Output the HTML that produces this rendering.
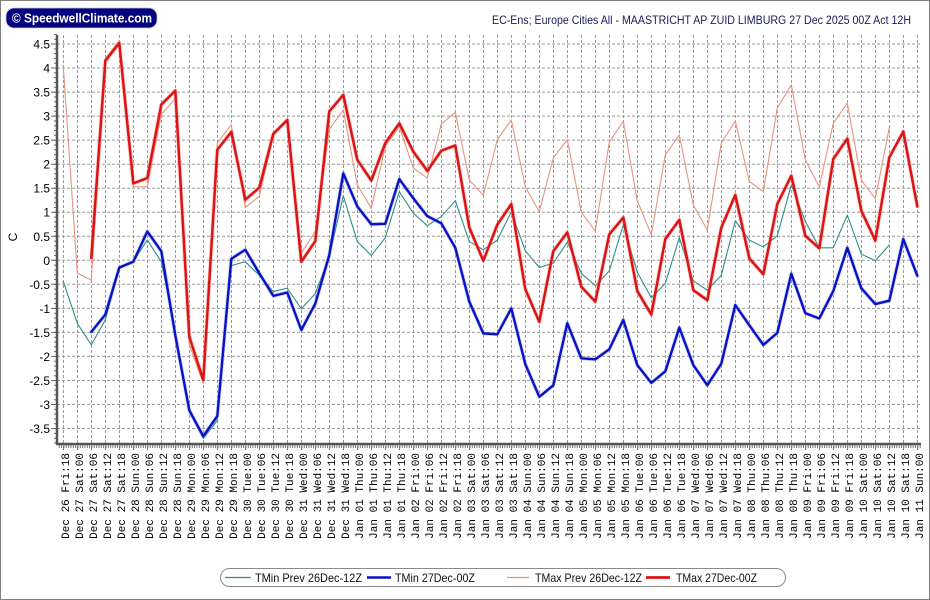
<!DOCTYPE html>
<html><head><meta charset="utf-8"><style>
html,body{margin:0;padding:0;background:#fff;}
svg{display:block;}
</style></head><body>
<svg width="930" height="600" viewBox="0 0 930 600" xmlns="http://www.w3.org/2000/svg">
<rect x="0" y="0" width="930" height="600" fill="#fff"/>
<rect x="0.5" y="0.5" width="929" height="599" fill="none" stroke="#808080" stroke-width="1"/>

<!-- logo -->
<rect x="6" y="8" width="151" height="20" rx="8" ry="8" fill="#04047e" stroke="#c8c8e0" stroke-width="0.8"/>
<text x="12" y="22.5" font-family="'Liberation Sans',sans-serif" font-weight="bold" font-size="12.5" fill="#fff" textLength="140" lengthAdjust="spacingAndGlyphs">© SpeedwellClimate.com</text>

<!-- title -->
<text x="492" y="24" font-family="'Liberation Sans',sans-serif" font-size="12" fill="#1a1a5a" textLength="419" lengthAdjust="spacingAndGlyphs">EC-Ens; Europe Cities All - MAASTRICHT AP ZUID LIMBURG 27 Dec 2025 00Z Act 12H</text>

<!-- grid -->
<g stroke="#9a9a9a" stroke-width="1" stroke-dasharray="3 2" fill="none">
<path d="M57 44H921M57 68H921M57 92.1H921M57 116.1H921M57 140.1H921M57 164.2H921M57 188.2H921M57 212.2H921M57 236.3H921M57 260.3H921M57 284.3H921M57 308.4H921M57 332.4H921M57 356.4H921M57 380.5H921M57 404.5H921M57 428.5H921"/>
<path d="M63.5 35V444M77.5 35V444M91.5 35V444M105.5 35V444M119.5 35V444M133.5 35V444M147.5 35V444M161.5 35V444M175.5 35V444M189.5 35V444M203.5 35V444M217.5 35V444M231.5 35V444M245.5 35V444M259.5 35V444M273.5 35V444M287.5 35V444M301.5 35V444M315.5 35V444M329.5 35V444M343.5 35V444M357.5 35V444M371.5 35V444M385.5 35V444M399.5 35V444M413.5 35V444M427.5 35V444M441.5 35V444M455.5 35V444M469.5 35V444M483.5 35V444M497.5 35V444M511.5 35V444M525.5 35V444M539.5 35V444M553.5 35V444M567.5 35V444M581.5 35V444M595.5 35V444M609.5 35V444M623.5 35V444M637.5 35V444M651.5 35V444M665.5 35V444M679.5 35V444M693.5 35V444M707.5 35V444M721.5 35V444M735.5 35V444M749.5 35V444M763.5 35V444M777.5 35V444M791.5 35V444M805.5 35V444M819.5 35V444M833.5 35V444M847.5 35V444M861.5 35V444M875.5 35V444M889.5 35V444M903.5 35V444M917.5 35V444"/>
</g>

<!-- axis ticks -->
<line x1="55.5" y1="33.9" x2="55.5" y2="444" stroke="#666" stroke-width="3" stroke-dasharray="1 3.807"/>
<path d="M51 44H57M51 68H57M51 92.1H57M51 116.1H57M51 140.1H57M51 164.2H57M51 188.2H57M51 212.2H57M51 236.3H57M51 260.3H57M51 284.3H57M51 308.4H57M51 332.4H57M51 356.4H57M51 380.5H57M51 404.5H57M51 428.5H57" stroke="#666" stroke-width="1"/>
<line x1="58.8" y1="446.5" x2="921" y2="446.5" stroke="#777" stroke-width="3" stroke-dasharray="1 1.333"/>
<line x1="63" y1="448" x2="921" y2="448" stroke="#777" stroke-width="4" stroke-dasharray="1 13"/>

<!-- axes -->
<line x1="57" y1="35" x2="57" y2="445" stroke="#555" stroke-width="2.5"/>
<line x1="56" y1="444" x2="921" y2="444" stroke="#555" stroke-width="2.5"/>

<!-- y labels -->
<g font-family="'Liberation Sans',sans-serif" font-size="12" fill="#000" text-anchor="end">
<text x="50" y="48.5">4.5</text>
<text x="50" y="72.5">4</text>
<text x="50" y="96.6">3.5</text>
<text x="50" y="120.6">3</text>
<text x="50" y="144.6">2.5</text>
<text x="50" y="168.7">2</text>
<text x="50" y="192.7">1.5</text>
<text x="50" y="216.7">1</text>
<text x="50" y="240.8">0.5</text>
<text x="50" y="264.8">0</text>
<text x="50" y="288.8">-0.5</text>
<text x="50" y="312.9">-1</text>
<text x="50" y="336.9">-1.5</text>
<text x="50" y="360.9">-2</text>
<text x="50" y="385">-2.5</text>
<text x="50" y="409">-3</text>
<text x="50" y="433">-3.5</text>
</g>
<text transform="translate(17,237) rotate(-90)" font-family="'Liberation Sans',sans-serif" font-size="12" fill="#000" text-anchor="middle">C</text>

<!-- x labels -->
<g font-family="'Liberation Mono',monospace" font-size="11" fill="#000" text-anchor="end">
<text transform="translate(69.1,453) rotate(-90)">Dec 26 Fri:18</text>
<text transform="translate(83.1,453) rotate(-90)">Dec 27 Sat:00</text>
<text transform="translate(97.1,453) rotate(-90)">Dec 27 Sat:06</text>
<text transform="translate(111.1,453) rotate(-90)">Dec 27 Sat:12</text>
<text transform="translate(125.1,453) rotate(-90)">Dec 27 Sat:18</text>
<text transform="translate(139.1,453) rotate(-90)">Dec 28 Sun:00</text>
<text transform="translate(153.1,453) rotate(-90)">Dec 28 Sun:06</text>
<text transform="translate(167.1,453) rotate(-90)">Dec 28 Sun:12</text>
<text transform="translate(181.1,453) rotate(-90)">Dec 28 Sun:18</text>
<text transform="translate(195.1,453) rotate(-90)">Dec 29 Mon:00</text>
<text transform="translate(209.1,453) rotate(-90)">Dec 29 Mon:06</text>
<text transform="translate(223.1,453) rotate(-90)">Dec 29 Mon:12</text>
<text transform="translate(237.1,453) rotate(-90)">Dec 29 Mon:18</text>
<text transform="translate(251.1,453) rotate(-90)">Dec 30 Tue:00</text>
<text transform="translate(265.1,453) rotate(-90)">Dec 30 Tue:06</text>
<text transform="translate(279.1,453) rotate(-90)">Dec 30 Tue:12</text>
<text transform="translate(293.1,453) rotate(-90)">Dec 30 Tue:18</text>
<text transform="translate(307.1,453) rotate(-90)">Dec 31 Wed:00</text>
<text transform="translate(321.1,453) rotate(-90)">Dec 31 Wed:06</text>
<text transform="translate(335.1,453) rotate(-90)">Dec 31 Wed:12</text>
<text transform="translate(349.1,453) rotate(-90)">Dec 31 Wed:18</text>
<text transform="translate(363.1,453) rotate(-90)">Jan 01 Thu:00</text>
<text transform="translate(377.1,453) rotate(-90)">Jan 01 Thu:06</text>
<text transform="translate(391.1,453) rotate(-90)">Jan 01 Thu:12</text>
<text transform="translate(405.1,453) rotate(-90)">Jan 01 Thu:18</text>
<text transform="translate(419.1,453) rotate(-90)">Jan 02 Fri:00</text>
<text transform="translate(433.1,453) rotate(-90)">Jan 02 Fri:06</text>
<text transform="translate(447.1,453) rotate(-90)">Jan 02 Fri:12</text>
<text transform="translate(461.1,453) rotate(-90)">Jan 02 Fri:18</text>
<text transform="translate(475.1,453) rotate(-90)">Jan 03 Sat:00</text>
<text transform="translate(489.1,453) rotate(-90)">Jan 03 Sat:06</text>
<text transform="translate(503.1,453) rotate(-90)">Jan 03 Sat:12</text>
<text transform="translate(517.1,453) rotate(-90)">Jan 03 Sat:18</text>
<text transform="translate(531.1,453) rotate(-90)">Jan 04 Sun:00</text>
<text transform="translate(545.1,453) rotate(-90)">Jan 04 Sun:06</text>
<text transform="translate(559.1,453) rotate(-90)">Jan 04 Sun:12</text>
<text transform="translate(573.1,453) rotate(-90)">Jan 04 Sun:18</text>
<text transform="translate(587.1,453) rotate(-90)">Jan 05 Mon:00</text>
<text transform="translate(601.1,453) rotate(-90)">Jan 05 Mon:06</text>
<text transform="translate(615.1,453) rotate(-90)">Jan 05 Mon:12</text>
<text transform="translate(629.1,453) rotate(-90)">Jan 05 Mon:18</text>
<text transform="translate(643.1,453) rotate(-90)">Jan 06 Tue:00</text>
<text transform="translate(657.1,453) rotate(-90)">Jan 06 Tue:06</text>
<text transform="translate(671.1,453) rotate(-90)">Jan 06 Tue:12</text>
<text transform="translate(685.1,453) rotate(-90)">Jan 06 Tue:18</text>
<text transform="translate(699.1,453) rotate(-90)">Jan 07 Wed:00</text>
<text transform="translate(713.1,453) rotate(-90)">Jan 07 Wed:06</text>
<text transform="translate(727.1,453) rotate(-90)">Jan 07 Wed:12</text>
<text transform="translate(741.1,453) rotate(-90)">Jan 07 Wed:18</text>
<text transform="translate(755.1,453) rotate(-90)">Jan 08 Thu:00</text>
<text transform="translate(769.1,453) rotate(-90)">Jan 08 Thu:06</text>
<text transform="translate(783.1,453) rotate(-90)">Jan 08 Thu:12</text>
<text transform="translate(797.1,453) rotate(-90)">Jan 08 Thu:18</text>
<text transform="translate(811.1,453) rotate(-90)">Jan 09 Fri:00</text>
<text transform="translate(825.1,453) rotate(-90)">Jan 09 Fri:06</text>
<text transform="translate(839.1,453) rotate(-90)">Jan 09 Fri:12</text>
<text transform="translate(853.1,453) rotate(-90)">Jan 09 Fri:18</text>
<text transform="translate(867.1,453) rotate(-90)">Jan 10 Sat:00</text>
<text transform="translate(881.1,453) rotate(-90)">Jan 10 Sat:06</text>
<text transform="translate(895.1,453) rotate(-90)">Jan 10 Sat:12</text>
<text transform="translate(909.1,453) rotate(-90)">Jan 10 Sat:18</text>
<text transform="translate(923.1,453) rotate(-90)">Jan 11 Sun:00</text>
</g>

<!-- series -->
<g transform="translate(63.3,260.3) scale(14,-48.07)" fill="none" stroke-linejoin="round" stroke-linecap="round">
<!-- TMin Prev -->
<polyline vector-effect="non-scaling-stroke" stroke="#2f8f88" stroke-width="1.1" points="0,-0.44 1,-1.31 2,-1.76 3,-1.24 4,-0.17 5,-0.03 6,0.42 7,-0.03 8,-1.5 9,-3.15 10,-3.71 11,-3.33 12,-0.11 13,-0.03 14,-0.31 15,-0.65 16,-0.58 17,-1.01 18,-0.69 19,0.08 20,1.34 21,0.39 22,0.1 23,0.47 24,1.43 25,0.98 26,0.72 27,0.91 28,1.24 29,0.39 30,0.22 31,0.42 32,1.01 33,0.2 34,-0.15 35,-0.06 36,0.38 37,-0.27 38,-0.53 39,-0.22 40,0.74 41,-0.25 42,-0.78 43,-0.48 44,0.47 45,-0.43 46,-0.62 47,-0.31 48,0.82 49,0.42 50,0.28 51,0.51 52,1.57 53,0.81 54,0.26 55,0.26 56,0.94 57,0.13 58,-0.01 59,0.32"/>
<!-- TMin main -->
<polyline vector-effect="non-scaling-stroke" stroke="#8090f0" stroke-opacity="0.35" stroke-width="4" points="2,-1.49 3,-1.13 4,-0.15 5,-0.03 6,0.6 7,0.19 8,-1.56 9,-3.12 10,-3.66 11,-3.24 12,0.03 13,0.22 14,-0.27 15,-0.74 16,-0.67 17,-1.45 18,-0.9 19,0.11 20,1.81 21,1.12 22,0.75 23,0.76 24,1.69 25,1.29 26,0.92 27,0.77 28,0.26 29,-0.86 30,-1.52 31,-1.54 32,-1.0 33,-2.16 34,-2.84 35,-2.6 36,-1.31 37,-2.04 38,-2.06 39,-1.85 40,-1.24 41,-2.18 42,-2.55 43,-2.31 44,-1.4 45,-2.18 46,-2.6 47,-2.15 48,-0.93 49,-1.35 50,-1.76 51,-1.51 52,-0.28 53,-1.1 54,-1.21 55,-0.64 56,0.26 57,-0.58 58,-0.91 59,-0.84 60,0.44 61,-0.32"/>
<polyline vector-effect="non-scaling-stroke" stroke="#0a12c4" stroke-width="2.4" points="2,-1.49 3,-1.13 4,-0.15 5,-0.03 6,0.6 7,0.19 8,-1.56 9,-3.12 10,-3.66 11,-3.24 12,0.03 13,0.22 14,-0.27 15,-0.74 16,-0.67 17,-1.45 18,-0.9 19,0.11 20,1.81 21,1.12 22,0.75 23,0.76 24,1.69 25,1.29 26,0.92 27,0.77 28,0.26 29,-0.86 30,-1.52 31,-1.54 32,-1.0 33,-2.16 34,-2.84 35,-2.6 36,-1.31 37,-2.04 38,-2.06 39,-1.85 40,-1.24 41,-2.18 42,-2.55 43,-2.31 44,-1.4 45,-2.18 46,-2.6 47,-2.15 48,-0.93 49,-1.35 50,-1.76 51,-1.51 52,-0.28 53,-1.1 54,-1.21 55,-0.64 56,0.26 57,-0.58 58,-0.91 59,-0.84 60,0.44 61,-0.32"/>
<!-- TMax Prev -->
<polyline vector-effect="non-scaling-stroke" stroke="#e9937f" stroke-width="1.1" points="0,4.03 1,-0.27 2,-0.41 3,4.2 4,4.57 5,1.53 6,1.53 7,3.03 8,3.37 9,-1.76 10,-2.56 11,2.44 12,2.82 13,1.1 14,1.33 15,2.6 16,2.9 17,0.15 18,0.6 19,2.72 20,3.13 21,1.57 22,1.08 23,2.37 24,2.78 25,1.92 26,1.71 27,2.83 28,3.08 29,1.67 30,1.35 31,2.51 32,2.92 33,1.53 34,1.01 35,2.13 36,2.51 37,1.0 38,0.61 39,2.46 40,2.89 41,1.24 42,0.53 43,2.19 44,2.61 45,1.15 46,0.63 47,2.44 48,2.9 49,1.64 50,1.43 51,3.17 52,3.65 53,2.09 54,1.53 55,2.85 56,3.27 57,1.67 58,1.28 59,2.76"/>
<!-- TMax main -->
<polyline vector-effect="non-scaling-stroke" stroke="#f88080" stroke-opacity="0.35" stroke-width="4.2" points="2,0.05 3,4.15 4,4.52 5,1.6 6,1.71 7,3.24 8,3.53 9,-1.59 10,-2.49 11,2.3 12,2.67 13,1.26 14,1.51 15,2.63 16,2.92 17,-0.03 18,0.4 19,3.1 20,3.44 21,2.09 22,1.66 23,2.44 24,2.85 25,2.26 26,1.86 27,2.28 28,2.39 29,0.68 30,-0.01 31,0.74 32,1.17 33,-0.6 34,-1.28 35,0.19 36,0.58 37,-0.55 38,-0.86 39,0.54 40,0.89 41,-0.64 42,-1.13 43,0.44 44,0.84 45,-0.62 46,-0.83 47,0.68 48,1.36 49,0.04 50,-0.29 51,1.17 52,1.76 53,0.51 54,0.25 55,2.11 56,2.53 57,1.03 58,0.41 59,2.14 60,2.68 61,1.12"/>
<polyline vector-effect="non-scaling-stroke" stroke="#dd1414" stroke-width="2.5" points="2,0.05 3,4.15 4,4.52 5,1.6 6,1.71 7,3.24 8,3.53 9,-1.59 10,-2.49 11,2.3 12,2.67 13,1.26 14,1.51 15,2.63 16,2.92 17,-0.03 18,0.4 19,3.1 20,3.44 21,2.09 22,1.66 23,2.44 24,2.85 25,2.26 26,1.86 27,2.28 28,2.39 29,0.68 30,-0.01 31,0.74 32,1.17 33,-0.6 34,-1.28 35,0.19 36,0.58 37,-0.55 38,-0.86 39,0.54 40,0.89 41,-0.64 42,-1.13 43,0.44 44,0.84 45,-0.62 46,-0.83 47,0.68 48,1.36 49,0.04 50,-0.29 51,1.17 52,1.76 53,0.51 54,0.25 55,2.11 56,2.53 57,1.03 58,0.41 59,2.14 60,2.68 61,1.12"/>
</g>

<!-- legend -->
<rect x="220.5" y="568.5" width="565" height="18" rx="9" ry="9" fill="#fff" stroke="#8a8a8a" stroke-width="1"/>
<line x1="225" y1="577.5" x2="251" y2="577.5" stroke="#2f8f88" stroke-width="1.2"/>
<line x1="367" y1="577.5" x2="391" y2="577.5" stroke="#0a12c4" stroke-width="2.6"/>
<line x1="507" y1="577.5" x2="529" y2="577.5" stroke="#e9937f" stroke-width="1.2"/>
<line x1="646" y1="577.5" x2="670" y2="577.5" stroke="#dd1414" stroke-width="2.8"/>
<g font-family="'Liberation Sans',sans-serif" font-size="12" fill="#111">
<text x="255" y="582" textLength="107" lengthAdjust="spacingAndGlyphs">TMin Prev 26Dec-12Z</text>
<text x="395" y="582" textLength="80" lengthAdjust="spacingAndGlyphs">TMin 27Dec-00Z</text>
<text x="535" y="582" textLength="107" lengthAdjust="spacingAndGlyphs">TMax Prev 26Dec-12Z</text>
<text x="676" y="582" textLength="81" lengthAdjust="spacingAndGlyphs">TMax 27Dec-00Z</text>
</g>
</svg>
</body></html>
